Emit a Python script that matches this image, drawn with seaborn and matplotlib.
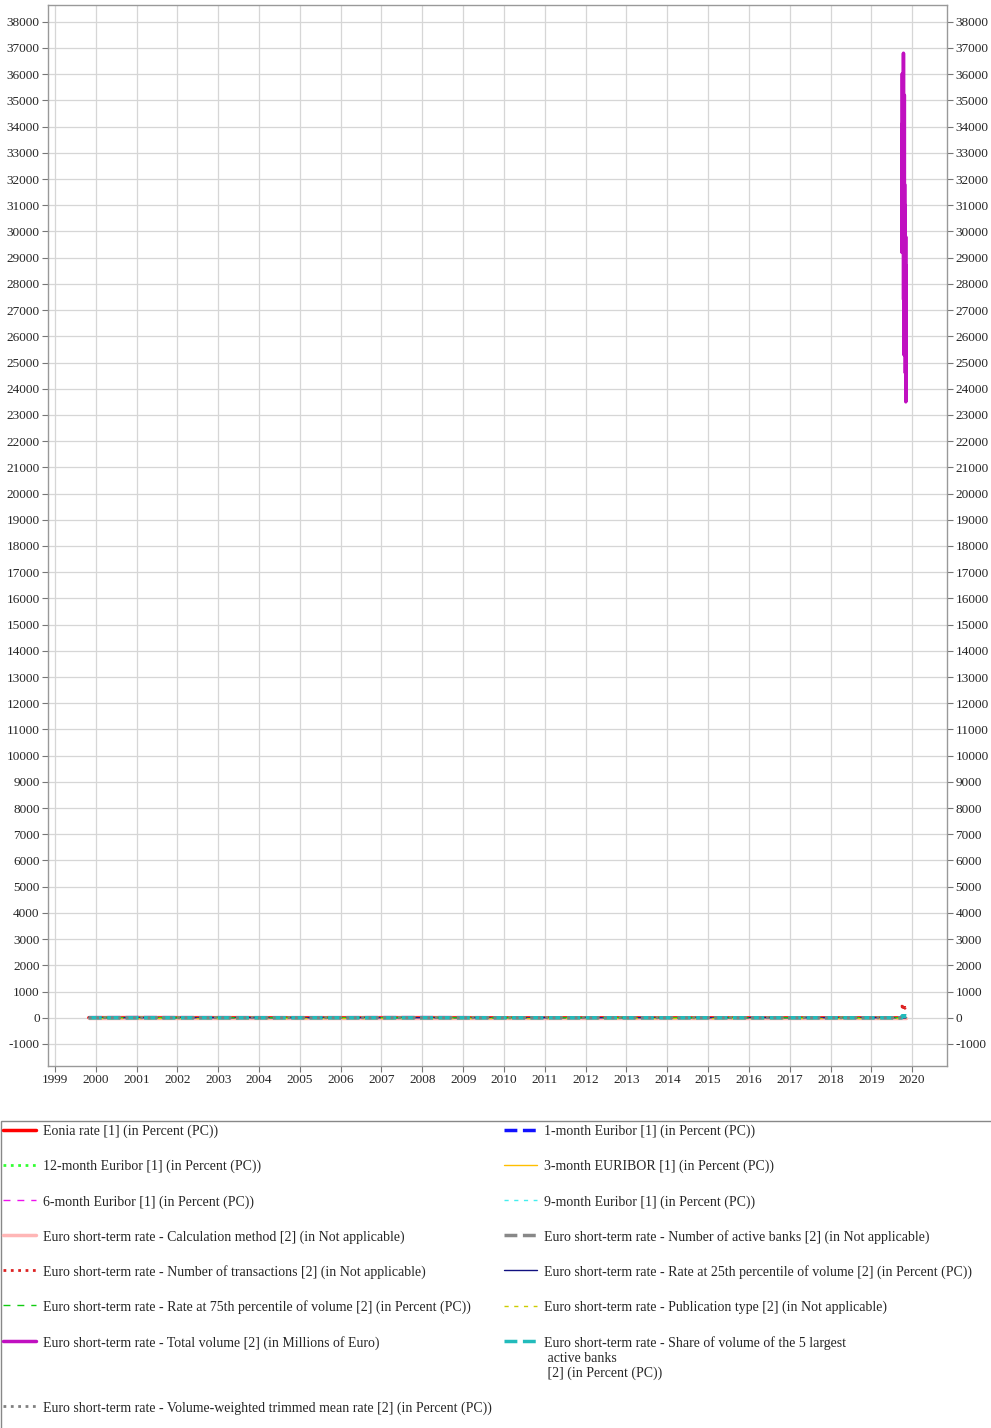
import pandas as pd
import seaborn as sns
import matplotlib
matplotlib.use("Agg")
import matplotlib.pyplot as plt
import matplotlib.dates as mdates
from matplotlib.patches import Rectangle

# one observation per year for the older series
old_dates = ["1999-11-01", "2000-01-03", "2001-01-02", "2002-01-02", "2003-01-02",
             "2004-01-02", "2005-01-03", "2006-01-02", "2007-01-02", "2008-01-02",
             "2009-01-02", "2010-01-04", "2011-01-03", "2012-01-02", "2013-01-02",
             "2014-01-02", "2015-01-02", "2016-01-04", "2017-01-02", "2018-01-02",
             "2019-01-02", "2019-09-30"]
eonia = [2.93, 3.04, 4.77, 3.28, 2.87, 2.03, 2.07, 2.33, 3.61, 3.93, 2.35, 0.34, 0.48,
         0.63, 0.07, 0.20, 0.05, -0.13, -0.35, -0.35, -0.36, -0.45]
euribor_1m = [3.05, 3.15, 4.80, 3.33, 2.85, 2.10, 2.12, 2.40, 3.62, 4.24, 2.57, 0.45, 0.79,
              0.63, 0.11, 0.22, 0.02, -0.21, -0.37, -0.37, -0.37, -0.45]
euribor_3m = [3.46, 3.34, 4.88, 3.29, 2.86, 2.13, 2.15, 2.49, 3.73, 4.68, 2.86, 0.70, 1.01,
              1.32, 0.19, 0.29, 0.08, -0.13, -0.32, -0.33, -0.31, -0.42]
euribor_6m = [3.53, 3.58, 4.93, 3.34, 2.86, 2.16, 2.21, 2.64, 3.85, 4.71, 2.96, 0.99, 1.23,
              1.62, 0.32, 0.39, 0.17, -0.04, -0.22, -0.27, -0.24, -0.39]
euribor_9m = [3.65, 3.78, 5.01, 3.44, 2.88, 2.21, 2.28, 2.77, 3.96, 4.74, 3.06, 1.12, 1.39,
              1.80, 0.45, 0.48, 0.25, 0.02, -0.14, -0.22, -0.19, -0.36]
euribor_12m = [3.80, 3.93, 5.09, 3.57, 2.95, 2.31, 2.36, 2.88, 4.07, 4.75, 3.05, 1.25, 1.53,
               1.95, 0.55, 0.56, 0.33, 0.06, -0.08, -0.19, -0.12, -0.34]

# most €STR columns sit at 0 over the older dates in the source table
estr_before = [0, 0, 0, 0, 0, 0, 0, 0, 0, 0, 0, 0, 0, 0, 0, 0, 0, 0, 0, 0, 0, 0]

# €STR daily observations
estr_dates = pd.bdate_range("2019-10-01", "2019-11-08")
total_volume = [36000, 29200, 34100, 30500, 33800, 29800, 34000, 31200, 33500, 30100,
                36800, 27400, 33900, 25300, 32600, 29000, 35200, 27800, 31800, 26400,
                30900, 25900, 31000, 24600, 29800, 23500, 28700, 25400, 27900]
n_transactions = [430, 445, 420, 410, 432, 415, 405, 428, 418, 400, 412, 395, 420, 390,
                  402, 385, 398, 380, 375, 392, 370, 365, 380, 360, 352, 368, 345, 338, 330]
n_active_banks = [32, 31, 33, 30, 32, 31, 30, 32, 29, 31, 33, 30, 31, 32, 30, 29, 31, 32,
                  30, 31, 29, 30, 32, 31, 30, 29, 31, 30, 30]
share_top5 = [58, 62, 57, 60, 55, 59, 61, 56, 58, 60, 63, 57, 59, 54, 58, 61, 56, 60, 57,
              55, 59, 58, 62, 56, 57, 60, 55, 58, 59]
rate_25 = [-0.58, -0.58, -0.57, -0.58, -0.58, -0.57, -0.58, -0.58, -0.58, -0.57, -0.58,
           -0.58, -0.58, -0.57, -0.58, -0.58, -0.58, -0.57, -0.58, -0.58, -0.58, -0.58,
           -0.57, -0.58, -0.58, -0.58, -0.57, -0.58, -0.58]
rate_75 = [-0.50, -0.51, -0.50, -0.50, -0.51, -0.50, -0.50, -0.51, -0.50, -0.50, -0.51,
           -0.50, -0.50, -0.51, -0.50, -0.50, -0.51, -0.50, -0.50, -0.51, -0.50, -0.50,
           -0.51, -0.50, -0.50, -0.51, -0.50, -0.50, -0.51]
vw_mean = [-0.55, -0.55, -0.54, -0.55, -0.55, -0.55, -0.54, -0.55, -0.55, -0.55, -0.55,
           -0.54, -0.55, -0.55, -0.55, -0.55, -0.54, -0.55, -0.55, -0.55, -0.55, -0.54,
           -0.55, -0.55, -0.55, -0.55, -0.54, -0.55, -0.55]
calc_method = [0, 0, 0, 0, 0, 0, 0, 0, 0, 0, 0, 0, 0, 0, 0, 0, 0, 0, 0, 0, 0, 0, 0, 0,
               0, 0, 0, 0, 0]
pub_type = [0, 0, 0, 0, 0, 0, 0, 0, 0, 0, 0, 0, 0, 0, 0, 0, 0, 0, 0, 0, 0, 0, 0, 0,
            0, 0, 0, 0, 0]

EST = "Euro short-term rate - "
# drawing order (row by row as in the legend)
# kind: "old" = yearly dates, "estr" = daily only, "estr0" = zeros before the daily part
series = [
    ("Eonia rate [1] (in Percent (PC))", "old", eonia, "#ff0000", "-", 2.5),
    ("1-month Euribor [1] (in Percent (PC))", "old", euribor_1m, "#1111ff", "--", 2.5),
    ("12-month Euribor [1] (in Percent (PC))", "old", euribor_12m, "#33ff33", ":", 2),
    ("3-month EURIBOR [1] (in Percent (PC))", "old", euribor_3m, "#ffbf00", "-", 1),
    ("6-month Euribor [1] (in Percent (PC))", "old", euribor_6m, "#ee11ee", (0, (5, 5)), 1),
    ("9-month Euribor [1] (in Percent (PC))", "old", euribor_9m, "#44eeee", (0, (3, 4)), 1),
    (EST + "Calculation method [2] (in Not applicable)", "estr0", calc_method, "#ffb6b6", "-", 2.5),
    (EST + "Number of active banks [2] (in Not applicable)", "estr0", n_active_banks, "#888888", "--", 2.5),
    (EST + "Number of transactions [2] (in Not applicable)", "estr", n_transactions, "#dd2222", ":", 2),
    (EST + "Rate at 25th percentile of volume [2] (in Percent (PC))", "estr0", rate_25, "#101080", "-", 1),
    (EST + "Rate at 75th percentile of volume [2] (in Percent (PC))", "estr0", rate_75, "#11cc11", (0, (5, 5)), 1),
    (EST + "Publication type [2] (in Not applicable)", "estr0", pub_type, "#cccc00", (0, (3, 4)), 1),
    (EST + "Total volume [2] (in Millions of Euro)\n\n", "estr", total_volume, "#c010c0", "-", 2.5),
    (EST + "Share of volume of the 5 largest\n active banks\n [2] (in Percent (PC))", "estr0", share_top5, "#22bbbb", "--", 2.5),
    (EST + "Volume-weighted trimmed mean rate [2] (in Percent (PC))", "estr0", vw_mean, "#808080", ":", 2),
]
# legend is filled column by column: left column then right column
legend_order = [0, 2, 4, 6, 8, 10, 12, 14, 1, 3, 5, 7, 9, 11, 13]

sns.set_style("whitegrid")
plt.rcParams["font.family"] = ["Liberation Serif", "DejaVu Serif"]
plt.rcParams["font.size"] = 10
plt.rcParams["axes.unicode_minus"] = False

fig = plt.figure(figsize=(9.91, 14.28), dpi=100)
ax = fig.add_axes([48 / 991, 1 - 1066 / 1428, (947 - 48) / 991, (1066 - 5) / 1428])

x_old = pd.to_datetime(old_dates)
x_full = x_old.append(estr_dates)
handles = []
labels = []
for label, kind, vals, color, ls, lw in series:
    if kind == "old":
        xs, ys = x_old, vals
    elif kind == "estr":
        xs, ys = estr_dates, vals
    else:
        xs, ys = x_full, estr_before + vals
    sns.lineplot(x=xs, y=ys, ax=ax, color=color, linestyle=ls, lw=lw,
                 estimator=None, sort=False)
    handles.append(ax.get_lines()[-1])
    labels.append(label)

ax.xaxis.set_major_locator(mdates.YearLocator())
ax.xaxis.set_major_formatter(mdates.DateFormatter("%Y"))
ax.yaxis.set_major_locator(matplotlib.ticker.MultipleLocator(1000))
ax.set_xlabel("")
ax.set_ylabel("")
ax.grid(True, color="#d6d6d6", lw=0.9)
for sp in ax.spines.values():
    sp.set_color("#999999")
    sp.set_linewidth(1)
ax.tick_params(axis="both", which="both", length=4, color="#777777", labelsize=9.5,
               left=True, bottom=True, right=True, labelright=True, pad=2)

leg = fig.legend([handles[i] for i in legend_order], [labels[i] for i in legend_order],
                 ncol=2, loc="upper left",
                 bbox_to_anchor=(3 / 991, 1 - 1125 / 1428), frameon=False,
                 borderpad=0, borderaxespad=0, handlelength=2.4, handletextpad=0.45,
                 columnspacing=0.9, labelspacing=1.55, fontsize=10)
# align handles with the first line of multi-line labels
for col in leg._legend_handle_box.get_children():
    for item in col.get_children():
        item.align = "top"

fig.add_artist(Rectangle((1 / 991, -0.05), 1.2, (1428 - 1121) / 1428 + 0.05,
                         transform=fig.transFigure, fill=False, edgecolor="#888888",
                         lw=1, clip_on=False))

fig.savefig("out.png", dpi=100)
